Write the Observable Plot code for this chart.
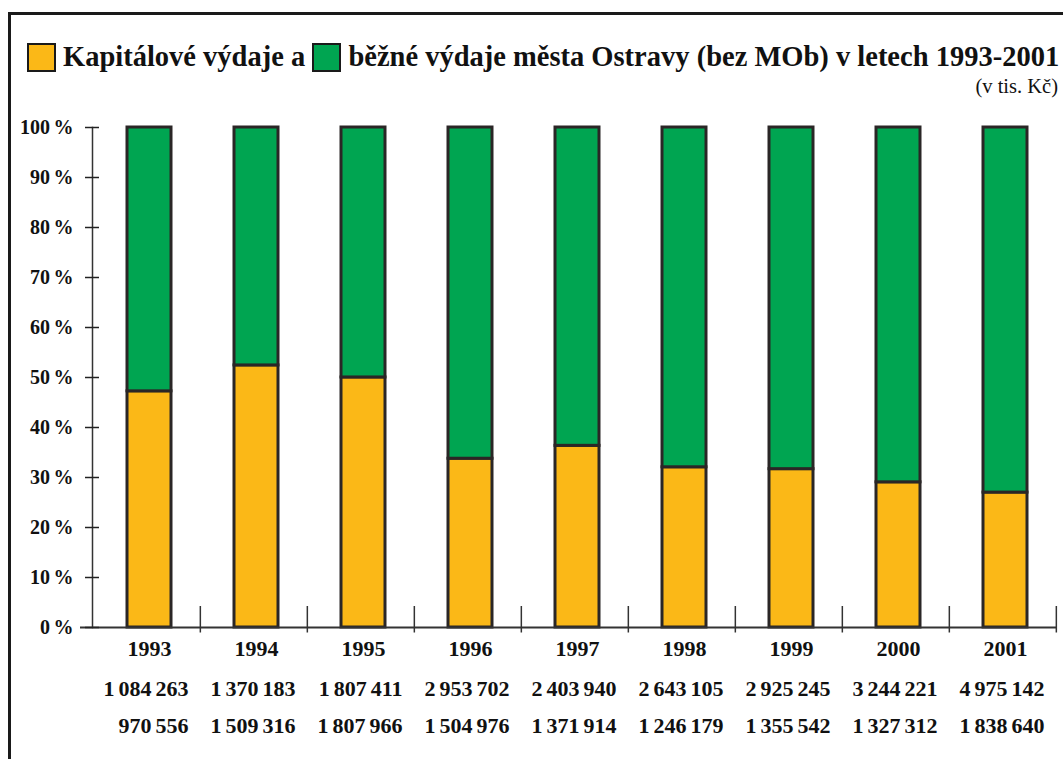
<!DOCTYPE html>
<html>
<head>
<meta charset="utf-8">
<script src="https://cdn.jsdelivr.net/npm/d3@7"></script>
<script src="https://cdn.jsdelivr.net/npm/@observablehq/plot@0.6"></script>
<style>
  html, body { margin: 0; padding: 0; background: #fff; }
  #wrap { position: relative; width: 1063px; height: 759px; overflow: hidden; font-family: "Liberation Serif", "Times New Roman", serif; color: #111; }
  #border { position: absolute; left: 8px; top: 12px; width: 2000px; height: 2000px; border-top: 3px solid #1a1a1a; border-left: 3px solid #1a1a1a; }
  #title { position: absolute; left: 27px; top: 41px; white-space: nowrap; font-weight: bold; font-size: 28.5px; line-height: 32px; display: flex; align-items: center; }
  .sw { display: inline-block; width: 25px; height: 25px; border: 2px solid #1a1a1a; margin-right: 7px; }
  #unit { position: absolute; right: 5px; top: 75px; font-size: 20.5px; line-height: 22px; }
  #chart { position: absolute; left: 0; top: 100px; }
</style>
</head>
<body>
<div id="wrap">
  <div id="border"></div>
  <div id="title"><span class="sw" style="background:#FBB817"></span>Kapitálové výdaje a&nbsp;<span class="sw" style="background:#00A551"></span>běžné výdaje města Ostravy (bez MOb) v letech 1993-2001</div>
  <div id="unit">(v tis. Kč)</div>
  <div id="chart"></div>
</div>
<script>
const years = ["1993","1994","1995","1996","1997","1998","1999","2000","2001"];
const bezne = [1084263, 1370183, 1807411, 2953702, 2403940, 2643105, 2925245, 3244221, 4975142];
const kapitalove = [970556, 1509316, 1807966, 1504976, 1371914, 1246179, 1355542, 1327312, 1838640];
const series = ["Kapitálové výdaje", "Běžné výdaje"];
const colors = ["#FBB817", "#00A551"];
const yTicks = [0, 0.1, 0.2, 0.3, 0.4, 0.5, 0.6, 0.7, 0.8, 0.9, 1];

const data = [];
years.forEach((y, i) => {
  data.push({year: y, type: series[0], value: kapitalove[i]});
  data.push({year: y, type: series[1], value: bezne[i]});
});

const fmt = n => String(n).replace(/\B(?=(\d{3})+(?!\d))/g, " ");

const W = 1063, H = 659, ML = 92, MR = 2;
const step = (W - ML - MR) / years.length;

const chart = Plot.plot({
  width: W,
  height: H,
  marginTop: 27,
  marginBottom: 132,
  marginLeft: ML,
  marginRight: MR,
  style: {fontFamily: '"Liberation Serif", "Times New Roman", serif', fontSize: "20px", fontWeight: "bold", color: "#222", background: "transparent", wordSpacing: "-1.5px"},
  x: {domain: years, paddingInner: 0.59, paddingOuter: 0.295, axis: null},
  y: {domain: [0, 1], axis: null},
  color: {domain: series, range: colors},
  marks: [
    Plot.barY(data, Plot.stackY({offset: "normalize", order: series}, {
      x: "year", y: "value", fill: "type", z: "type", stroke: "#2a2626", strokeWidth: 3
    })),
    Plot.frame({anchor: "left", stroke: "#333", strokeWidth: 1.5}),
    Plot.ruleY([0], {stroke: "#333", strokeWidth: 2, insetLeft: -12, insetRight: 5}),
    Plot.ruleX(years, {x: d => d, dx: step / 2 - 3, y1: -0.011, y2: 0.042, stroke: "#333", strokeWidth: 1.5}),
    Plot.axisY(yTicks, {label: null, tickSize: 14, dx: 7, tickPadding: 12, fontSize: 20, fontWeight: "bold", tickFormat: d => `${Math.round(d * 100)} %`, strokeWidth: 1.5, fill: "#111"}),
    Plot.text(years, {x: d => d, text: d => d, frameAnchor: "bottom", dy: 28, fontSize: 22, fontWeight: "bold", fill: "#111"}),
    Plot.text(years, {x: d => d, text: (d, i) => fmt(bezne[i]), frameAnchor: "bottom", dy: 68, dx: 39, textAnchor: "end", fontSize: 22, fontWeight: "bold", fill: "#111"}),
    Plot.text(years, {x: d => d, text: (d, i) => fmt(kapitalove[i]), frameAnchor: "bottom", dy: 105, dx: 39, textAnchor: "end", fontSize: 22, fontWeight: "bold", fill: "#111"})
  ]
});
document.getElementById("chart").appendChild(chart);
</script>
</body>
</html>
